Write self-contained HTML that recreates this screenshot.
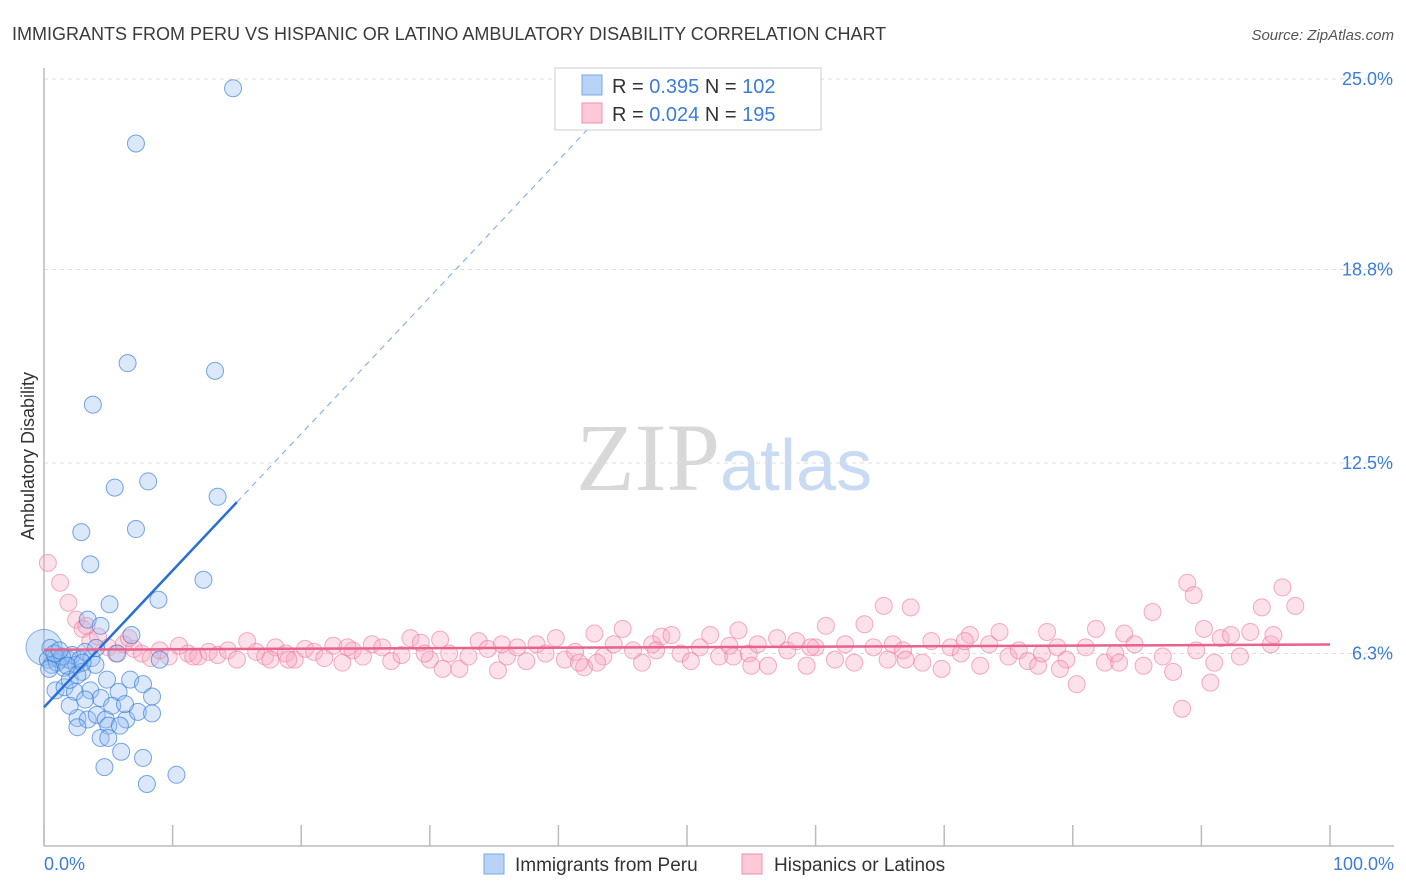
<!DOCTYPE html>
<html><head><meta charset="utf-8"><style>
body{margin:0;background:#fff;font-family:"Liberation Sans",sans-serif;}
svg{display:block}
</style></head><body>
<svg width="1406" height="892">
<text x="12" y="40" font-size="18" fill="#3a3a3a">IMMIGRANTS FROM PERU VS HISPANIC OR LATINO AMBULATORY DISABILITY CORRELATION CHART</text>
<text x="1394" y="40" font-size="15" fill="#555" font-style="italic" text-anchor="end">Source: ZipAtlas.com</text>
<text x="720" y="490" font-size="96" fill="#d8d8d8" font-family="Liberation Serif,serif" text-anchor="end">ZIP</text>
<text x="720" y="490" font-size="72" fill="#c9dbf3">atlas</text>
<g id="grid"></g>
<line x1="44" y1="68" x2="44" y2="846" stroke="#bbb" stroke-width="1.5"/>
<line x1="44" y1="846" x2="1394" y2="846" stroke="#bbb" stroke-width="1.5"/>
<g id="xticks"></g>
<g id="pink"></g>
<g id="blue"></g>
<g id="trends"></g>
<text x="44" y="870" font-size="18" fill="#3b7dd8">0.0%</text>
<text x="1394" y="870" font-size="18" fill="#3b7dd8" text-anchor="end">100.0%</text>
<text transform="translate(34,456) rotate(-90)" font-size="18" fill="#333" text-anchor="middle">Ambulatory Disability</text>
<g>
<rect x="555" y="68" width="266" height="62" fill="#fff" stroke="#ccc"/>
<rect x="582" y="75" width="20" height="20" fill="#b8d3f5" stroke="#7aa9e6"/>
<rect x="582" y="103" width="20" height="20" fill="#fbc9d7" stroke="#f08fad"/>
<text x="612" y="93" font-size="20" fill="#333">R = <tspan fill="#3b7dd8">0.395</tspan>   N = <tspan fill="#3b7dd8">102</tspan></text>
<text x="612" y="121" font-size="20" fill="#333">R = <tspan fill="#3b7dd8">0.024</tspan>   N = <tspan fill="#3b7dd8">195</tspan></text>
</g>
<g>
<rect x="484" y="854" width="20" height="20" fill="#b8d3f5" stroke="#7aa9e6"/>
<text x="515" y="871" font-size="19" fill="#333">Immigrants from Peru</text>
<rect x="742" y="854" width="20" height="20" fill="#fbc9d7" stroke="#f08fad"/>
<text x="774" y="871" font-size="19" fill="#333">Hispanics or Latinos</text>
</g>
</svg>
<script>
const yTicks=[6.3,12.5,18.8,25.0];
const yTickLabels=["6.3%","12.5%","18.8%","25.0%"];
const xTicks=[0,10,20,30,40,50,60,70,80,90,100];
const blueX=[14.7,7.15,6.5,13.3,3.8,5.5,8.1,13.5,2.9,7.15,3.6,12.4,5.1,8.9,3.4,4.4,6.8,5.7,9.0,0.9,1.6,2.4,3.6,4.4,5.8,6.7,7.7,8.4,4.9,2.6,3.4,4.1,4.8,6.4,7.3,8.4,2.6,5.0,5.9,4.4,5.0,6.0,4.7,7.7,10.3,8.0,2.0,3.2,5.3,6.3,0.3,0.6,0.9,1.25,1.55,1.9,2.2,2.5,2.8,3.2,3.7,4.05,2.0,2.95,4.0,0.5,1.0,1.4,1.8,0.4,0.8,1.2,2.6,3.0];
const blueY=[24.7,22.9,15.75,15.5,14.4,11.7,11.9,11.4,10.25,10.35,9.2,8.7,7.9,8.05,7.4,7.2,6.9,6.3,6.1,5.1,5.2,5.05,5.1,4.85,5.05,5.45,5.3,4.9,5.45,4.2,4.15,4.3,4.15,4.15,4.4,4.35,3.9,3.95,3.95,3.55,3.55,3.1,2.6,2.9,2.35,2.05,4.6,4.8,4.6,4.65,6.1,5.93,6.15,6.1,5.83,6.1,6.25,5.93,6.1,6.35,6.15,6.48,5.44,5.7,5.93,6.48,6.0,6.2,5.9,5.8,6.3,6.4,5.6,6.0];
const pinkX=[0.3,1.25,1.9,2.5,3.0,3.6,4.2,5.0,5.6,6.2,7.0,7.6,8.3,9.0,9.7,10.5,11.2,12.0,12.8,13.5,14.3,15.0,15.8,16.5,17.2,18.0,18.8,19.5,20.3,21.0,21.8,22.5,23.2,24.0,24.8,25.5,26.3,27.0,27.8,28.5,29.3,30.0,30.8,31.5,32.3,33.0,33.8,34.5,35.3,36.0,36.8,37.5,38.3,39.0,39.8,40.5,41.3,42.0,42.8,43.5,44.3,45.0,45.8,46.5,47.3,48.0,48.8,49.5,50.3,51.0,51.8,52.5,53.3,54.0,54.8,55.5,56.3,57.0,57.8,58.5,59.3,60.0,60.8,61.5,62.3,63.0,63.8,64.5,65.3,66.0,66.8,67.4,68.3,69.0,69.8,70.5,71.3,72.0,72.8,73.5,74.3,75.0,75.8,76.5,77.3,78.0,78.8,79.5,80.3,81.0,81.8,82.5,83.3,84.0,84.8,85.5,86.2,87.0,87.8,88.5,88.9,89.4,90.2,90.7,91.5,92.3,93.0,93.8,94.7,95.4,96.3,97.3,3.3,6.6,11.6,17.6,23.6,29.6,35.6,41.6,47.6,53.6,59.6,65.6,71.6,77.6,83.6,89.6,95.6,19.0,31.0,43.0,55.0,67.0,79.0,91.0];
const pinkY=[9.25,8.6,7.95,7.4,7.1,6.7,6.85,6.5,6.3,6.6,6.45,6.3,6.15,6.4,6.2,6.55,6.3,6.2,6.35,6.25,6.4,6.1,6.7,6.35,6.2,6.5,6.3,6.1,6.45,6.35,6.15,6.55,6.0,6.4,6.2,6.6,6.5,6.05,6.25,6.8,6.65,6.1,6.75,6.3,5.8,6.2,6.7,6.45,5.75,6.2,6.5,6.05,6.6,6.3,6.8,6.1,6.35,5.85,6.95,6.2,6.6,7.1,6.4,6.0,6.6,6.85,6.9,6.3,6.05,6.5,6.9,6.2,6.55,7.05,6.3,6.6,5.9,6.8,6.4,6.7,5.9,6.5,7.2,6.1,6.6,6.0,7.25,6.5,7.85,6.6,6.4,7.8,6.0,6.7,5.8,6.5,6.3,6.9,5.9,6.6,7.0,6.2,6.4,6.05,5.9,7.0,6.5,6.1,5.3,6.5,7.1,6.0,6.3,6.95,6.6,5.9,7.65,6.2,5.7,4.5,8.6,8.2,7.1,5.35,6.8,6.9,6.2,7.0,7.8,6.6,8.45,7.85,7.2,6.8,6.2,6.1,6.5,6.3,6.6,6.0,6.4,6.2,6.5,6.1,6.7,6.3,6.0,6.4,6.9,6.1,5.8,6.0,5.9,6.1,5.8,6.0];
const W=1406,X0=44,X1=1330,Y0=79,PX=30.72;
const sx=v=>X0+(X1-X0)*v/100;
const sy=v=>Y0+(25-v)*PX;
const NS="http://www.w3.org/2000/svg";
function mk(tag,attrs,parent){const e=document.createElementNS(NS,tag);for(const k in attrs)e.setAttribute(k,attrs[k]);parent.appendChild(e);return e;}
const grid=document.getElementById('grid');
yTicks.forEach((t,i)=>{
 const l=mk('line',{x1:X0,x2:1394,y1:sy(t),y2:sy(t),stroke:'#ddd','stroke-dasharray':'4,4'},grid);
 
 
 const tx=mk('text',{x:1393,y:sy(t)+6,'font-size':18,fill:'#3b7dd8','text-anchor':'end'},grid);
 tx.textContent=yTickLabels[i];
 
 
});
const xt=document.getElementById('xticks');
xTicks.forEach(t=>{
 const l=mk('line',{x1:sx(t),x2:sx(t),y1:825,y2:846,stroke:'#bbb','stroke-width':1.5},xt);
 
 
});
const pg=document.getElementById('pink');
pinkX.forEach((x,i)=>{
 const c=mk('circle',{cx:sx(x),cy:sy(pinkY[i]),r:8.5,fill:'rgba(248,170,195,0.35)',stroke:'rgba(236,120,155,0.6)','stroke-width':1},pg);
 
 
});
const bg=document.getElementById('blue');
const big=mk('circle',{cx:sx(0),cy:sy(6.5),r:18,fill:'rgba(150,190,240,0.4)',stroke:'rgba(60,130,220,0.6)'},bg);


blueX.forEach((x,i)=>{
 const c=mk('circle',{cx:sx(x),cy:sy(blueY[i]),r:8.5,fill:'rgba(150,190,240,0.35)',stroke:'rgba(50,120,215,0.65)','stroke-width':1},bg);
 
 
});
const tg=document.getElementById('trends');
// blue trend: y = 4.55 + 0.44x (fit)
const bA=4.55,bB=0.445;
let l=mk('line',{x1:sx(0),y1:sy(bA),x2:sx(15),y2:sy(bA+bB*15),stroke:'#2a6fd6','stroke-width':2.5},tg);


l=mk('line',{x1:sx(15),y1:sy(bA+bB*15),x2:sx(42.5),y2:sy(bA+bB*42.5),stroke:'#8ab3e8','stroke-width':1.2,'stroke-dasharray':'6,5'},tg);


const pA=6.42,pB=0.0017;
l=mk('line',{x1:sx(0),y1:sy(pA),x2:sx(100),y2:sy(pA+pB*100),stroke:'#e8628c','stroke-width':2.5},tg);


</script>
</body></html>
